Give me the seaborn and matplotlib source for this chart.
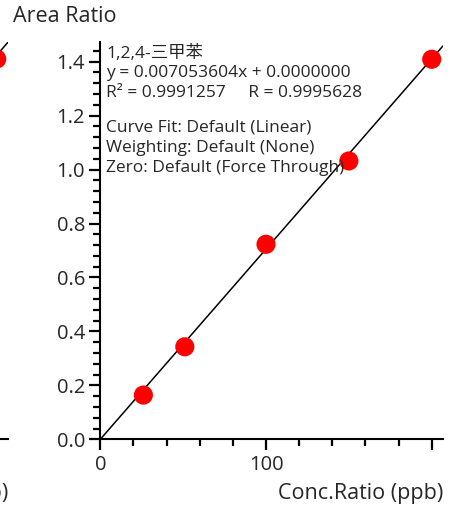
import matplotlib
matplotlib.use("Agg")
import matplotlib.pyplot as plt
from matplotlib.ticker import MultipleLocator, FixedLocator, FormatStrFormatter
import numpy as np
import pandas as pd
import seaborn as sns

# Calibration data: 1,2,4-trimethylbenzene
conc_ratio = [26, 51, 100, 150, 200]
area_ratio = [0.164, 0.343, 0.723, 1.032, 1.409]
slope = 0.007053604
intercept = 0.0
compound = "1,2,4-三甲苯"
r_squared = 0.9991257
r_value = 0.9995628
fit_notes = ["Curve Fit: Default (Linear)",
             "Weighting: Default (None)",
             "Zero: Default (Force Through)"]

# Neighbouring panel (only its right edge falls inside the figure)
prev_conc = [200]
prev_area = [1.41]
prev_slope = 0.00712

x_max = 206.8
y_max = 1.473

sns.set_theme(style="white")
plt.rcParams["font.family"] = ["Open Sans", "Noto Sans CJK SC", "DejaVu Sans"]

W, H = 454, 509
fig = plt.figure(figsize=(W / 100, H / 100), dpi=100)


def px_axes(left, top, right, bottom):
    return fig.add_axes([left / W, 1 - bottom / H, (right - left) / W, (bottom - top) / H])


def style_axes(ax, show_labels=True):
    for side in ("top", "right"):
        ax.spines[side].set_visible(False)
    for side in ("left", "bottom"):
        ax.spines[side].set_linewidth(1.5)
        ax.spines[side].set_color("black")
    ax.set_xlim(0, x_max)
    ax.set_ylim(0, y_max)
    ax.xaxis.set_major_locator(FixedLocator([0, 100, 200]))
    ax.xaxis.set_minor_locator(MultipleLocator(20))
    ax.yaxis.set_major_locator(MultipleLocator(0.2))
    ax.yaxis.set_minor_locator(MultipleLocator(0.04))
    ax.set_xticklabels(["0", "100", ""])
    ax.yaxis.set_major_formatter(FormatStrFormatter("%.1f"))
    ax.tick_params(which="major", direction="out", length=8, width=1.6,
                   labelsize=14.5, color="black", pad=3)
    ax.tick_params(which="minor", direction="out", length=5, width=1.6, color="black")
    ax.tick_params(axis="both", which="both", bottom=True, left=True,
                   labelbottom=show_labels, labelleft=show_labels)
    ax.set_facecolor("white")
    ax.grid(False)


def draw_panel(ax, xs, ys, m, b):
    fx = np.array([0, x_max])
    ax.plot(fx, m * fx + b, color="black", lw=1.1, zorder=2)
    df = pd.DataFrame({"Conc.Ratio": xs, "Area Ratio": ys})
    sns.scatterplot(data=df, x="Conc.Ratio", y="Area Ratio", ax=ax, color="#ff0000",
                    s=190, edgecolor="none", zorder=3, clip_on=False)
    ax.set_xlabel("")
    ax.set_ylabel("")


# Left neighbour panel, mostly outside the canvas
ax0 = px_axes(100 - 435, 42, 8, 439.3)
style_axes(ax0, show_labels=False)
draw_panel(ax0, prev_conc, prev_area, prev_slope, 0.0)
ax0.text(1.0, -0.137, "Conc.Ratio (ppb)", transform=ax0.transAxes, ha="right",
         va="center", fontsize=15.5)

# Main panel
ax = px_axes(100.3, 42, 443, 439.3)
style_axes(ax)
draw_panel(ax, conc_ratio, area_ratio, slope, intercept)

ax.text(1.0, -0.137, "Conc.Ratio (ppb)", transform=ax.transAxes, ha="right",
        va="center", fontsize=15.5)
fig.text(13 / W, 1 - 17 / H, "Area Ratio", ha="left", va="center", fontsize=15.5)

info = [compound,
        f"y = {slope:.9f}x + {intercept:.7f}",
        f"R² = {r_squared:.7f}     R = {r_value:.7f}"]
y0 = 53
for i, line in enumerate(info):
    fig.text(106 / W, 1 - (y0 + i * 20) / H, line, ha="left", va="center", fontsize=12.5)
y1 = 127
for i, line in enumerate(fit_notes):
    fig.text(106 / W, 1 - (y1 + i * 20.5) / H, line, ha="left", va="center", fontsize=12.5)

fig.savefig("out.png", dpi=100)
